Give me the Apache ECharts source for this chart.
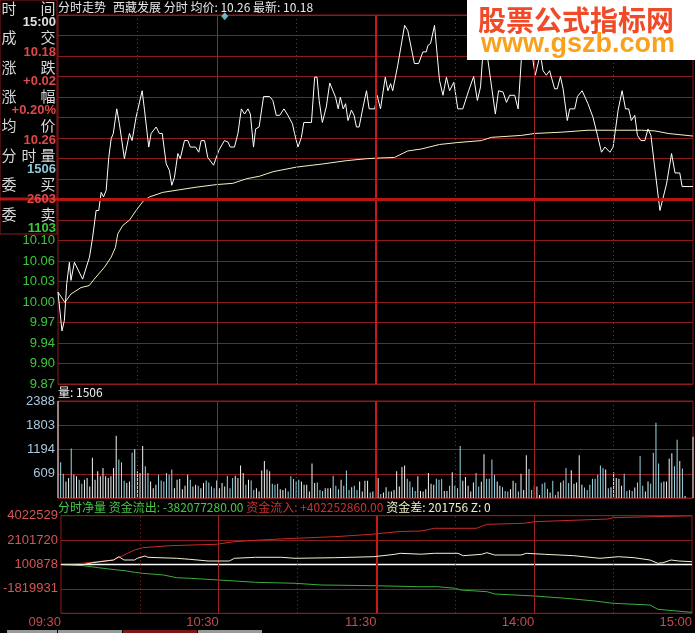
<!DOCTYPE html>
<html><head><meta charset="utf-8">
<script src="https://cdn.jsdelivr.net/npm/echarts@6/dist/echarts.min.js"></script>
<style>html,body{margin:0;padding:0;background:#000;}#c{width:695px;height:633px;}</style>
</head><body><div id="c"></div>
<script>
// ---------- data (minute index 0 = 09:30, 120 = 11:30/13:00, 240 = 15:00) ----------
const priceLine = [[0,10.017],[1.5,9.957],[2.4,9.973],[3.3,10.030],[4.3,10.063],[4.9,10.035],[6.2,10.063],[6.9,10.063],[9.3,10.037],[11.9,10.071],[13.1,10.102],[14.4,10.143],[15.4,10.143],[16.3,10.171],[17.2,10.164],[18.2,10.174],[19.2,10.225],[20.1,10.254],[20.9,10.262],[22.2,10.300],[23.2,10.277],[25.1,10.223],[27,10.262],[28,10.251],[29.5,10.287],[31.8,10.328],[32.7,10.298],[34.3,10.241],[35.2,10.262],[37.1,10.272],[38.3,10.262],[39.4,10.262],[40.9,10.215],[42.1,10.205],[43,10.182],[44,10.194],[45.3,10.231],[46.2,10.223],[47.8,10.251],[49.1,10.251],[50,10.241],[52,10.241],[53.2,10.233],[54.1,10.251],[55.4,10.251],[56.6,10.225],[58.8,10.213],[60.8,10.236],[62.9,10.251],[64.2,10.249],[65.1,10.241],[66.7,10.241],[68,10.262],[69.3,10.300],[70.5,10.292],[71.8,10.300],[72.7,10.292],[73.9,10.241],[74.7,10.269],[76,10.272],[77.7,10.319],[80,10.319],[81.2,10.313],[82.5,10.290],[83.8,10.290],[85.4,10.300],[86.9,10.290],[88.6,10.277],[89.4,10.262],[90.7,10.241],[92,10.256],[92.9,10.279],[95.8,10.279],[97,10.349],[97.9,10.349],[98.7,10.313],[99.9,10.279],[101.4,10.303],[102.7,10.340],[103.9,10.328],[104.9,10.318],[105.9,10.300],[106.7,10.318],[107.8,10.300],[108.7,10.308],[109.6,10.282],[110.9,10.298],[111.9,10.290],[112.8,10.272],[113.8,10.272],[115.3,10.303],[116.6,10.328],[117.6,10.300],[119.7,10.300],[120.6,10.321],[121.9,10.300],[123.7,10.349],[124.7,10.328],[125.7,10.339],[126.5,10.328],[128.4,10.367],[131,10.429],[132.2,10.421],[134.7,10.370],[136.3,10.370],[137.9,10.388],[139.2,10.388],[139.8,10.398],[140.8,10.401],[142.3,10.429],[144.2,10.344],[145.5,10.321],[146.8,10.349],[148,10.328],[149.6,10.341],[151.1,10.300],[153,10.300],[155.2,10.328],[157.1,10.350],[158.5,10.313],[159.7,10.334],[161,10.41],[162.5,10.375],[165.3,10.292],[166.5,10.328],[168.2,10.326],[169.5,10.310],[170.7,10.321],[172.6,10.321],[173.9,10.300],[175.1,10.375],[176.8,10.41],[179.5,10.375],[180.4,10.352],[181.7,10.375],[182.2,10.39],[182.7,10.375],[183.3,10.359],[184.6,10.352],[185.8,10.359],[187.7,10.331],[188.7,10.331],[189.9,10.350],[190.9,10.331],[192.5,10.282],[193.4,10.300],[195.3,10.300],[196.3,10.319],[198.1,10.328],[200.3,10.308],[202.2,10.287],[203.9,10.259],[205.4,10.233],[206.7,10.241],[208.6,10.233],[209.8,10.241],[211.7,10.298],[213.2,10.328],[214.5,10.300],[215.7,10.300],[216.7,10.282],[218,10.290],[219,10.259],[220.3,10.251],[221.8,10.251],[223,10.269],[224.1,10.259],[225.6,10.207],[227.5,10.143],[228.1,10.143],[230,10.184],[231.9,10.231],[233.2,10.201],[235,10.201],[235.9,10.18],[240,10.18]];
const avgLine = [[0,10.017],[2.6,10.001],[4.9,10.014],[8.7,10.024],[11.8,10.027],[13.7,10.037],[17.5,10.055],[20.1,10.071],[21.7,10.086],[22.6,10.107],[24.5,10.120],[27,10.128],[29.5,10.143],[32.3,10.158],[34.6,10.164],[39.6,10.171],[45.9,10.175],[52.2,10.179],[59.8,10.183],[66.1,10.185],[71.2,10.192],[76.2,10.196],[81.3,10.203],[90.1,10.210],[100.2,10.215],[109,10.220],[116.6,10.223],[121,10.224],[127.2,10.225],[132.2,10.235],[137.3,10.238],[144.2,10.245],[151.1,10.248],[160,10.251],[163.8,10.256],[175.1,10.259],[180.2,10.262],[190.3,10.264],[200.3,10.267],[207.9,10.267],[220.6,10.267],[225.6,10.266],[230.6,10.262],[240,10.258]];
const volume = [
2388,883,600,408,491,1216,575,533,450,350,
450,491,283,991,450,658,533,741,533,491,
533,741,1533,950,883,425,367,408,1116,1200,
658,616,1283,783,616,408,242,325,575,433,
408,616,575,700,242,450,466,217,300,575,
450,283,325,300,242,367,433,383,283,242,
433,242,367,283,550,242,491,550,491,800,
616,325,450,433,200,242,158,675,908,700,
658,350,325,350,217,200,242,158,533,466,
408,450,408,325,325,158,850,367,383,200,
175,242,242,242,550,300,217,450,300,675,
200,267,300,200,408,158,425,425,133,158,
250,491,100,133,267,158,158,200,658,283,
766,800,475,408,267,175,533,175,158,217,
616,350,325,475,450,466,175,175,300,633,
300,242,1283,425,516,300,158,383,616,283,
400,1075,475,475,950,575,408,300,267,175,
158,217,425,367,158,600,200,1050,716,200,
300,283,75,350,383,225,133,425,75,158,
383,433,741,367,683,350,383,1050,325,258,
200,325,475,475,575,800,741,700,242,267,
633,491,475,300,600,175,200,175,258,383,
1033,300,158,408,350,1116,1850,850,383,408,
408,975,1100,783,1433,908,725,50,0,0,
1506];
const inflow = [[0,100878],[8,196900],[20,461000],[28,1261300],[31,1445450],[41,1605500],[59,1717600],[66,1925650],[76,2061700],[89,2197800],[104,2325850],[118,2517900],[129,2742000],[137,2782000],[142,2998100],[158,2998100],[162,3318200],[176,3398250],[180,3526300],[208,3742400],[210,3846400],[230,3950000],[240,4000000]];
const outflow = [[0,100878],[8,20844],[16,-203250],[25,-419340],[28,-523390],[31,-603420],[39,-739480],[44,-955570],[49,-1003590],[60,-1139650],[74,-1323730],[89,-1403760],[99,-1539820],[119,-1595840],[136,-1675870],[143,-1675870],[150,-1803930],[152,-1940000],[162,-2076050],[165,-2260130],[180,-2420200],[192,-2604280],[203,-2820370],[210,-3004450],[224,-3140500],[227,-3484650],[234,-3620700],[240,-3724750]];
const netFlow = [[0,100878],[8,60860],[12,244940],[20,461030],[22,725140],[24,461030],[28,461030],[29,597100],[32,781170],[33,677130],[44,597100],[49,517060],[56,380990],[64,380990],[66,597100],[74,677130],[84,677130],[89,597100],[104,645110],[119,725140],[127,917220],[129,997260],[137,925250],[142,997260],[151,997260],[153,805180],[160,917220],[162,1045280],[165,861200],[175,861200],[177,997260],[184,917220],[195,805180],[205,597100],[212,725140],[218,645110],[224,461030],[227,196920],[229,244940],[232,461030],[235,380990],[240,324970]];
const markerPoint = [[63,10.443]];
const prevClose = 10.16;
const moneyBase = 100878;
const priceTickLabels = ['9.87','9.90','9.94','9.97','10.00','10.03','10.06','10.10'];
const volTickLabels = ['','609','1194','1803','2388'];
const moneyTickLabels = ['','-1819931','100878','2101720','4022529'];
const timeLabels = ['09:30','10:30','11:30','14:00','15:00'];
const gridMinutes = [30,60,90,120,150,180,210];
const gridKinds = ['dot','solid','dot','thick','dot','solid','dot'];
const infoLabels = [['时','间'],['成','交'],['涨','跌'],['涨','幅'],['均','价'],['分','时','量'],['委','买'],['委','卖']];
const infoValues = ['15:00','10.18','+0.02','+0.20%','10.26','1506','2603','1103'];

// ---------- styling ----------
const GRID = '#8a1c1c';
const RED = '#e04848', GREEN = '#3cc83c', CYAN = '#8ec8d8';
const infoColors = ['#e0e0e0',RED,RED,RED,RED,CYAN,RED,GREEN];
const NUMF = '"Liberation Sans", Arial, "Noto Sans CJK SC", sans-serif';
const CJKF = '"Noto Sans CJK SC", "Liberation Sans", sans-serif';

const PMIN = 9.875, PMAX = 10.445, PINT = (PMAX - PMIN) / 18;
const VMIN = 0, VINT = 597, VMAX = 2388;
const MINT = 1953330, MMIN = moneyBase - 2 * MINT, MMAX = moneyBase + 2 * MINT;

function lineStyleFor(k) {
  if (k === 'dot') return {color: '#9a2a2a', width: 1, type: [1, 3]};
  if (k === 'thick') return {color: '#c81818', width: 2, type: 'solid'};
  return {color: '#a02222', width: 1, type: 'solid'};
}
function vLines() { return gridMinutes.map((m, i) => ({xAxis: m, lineStyle: lineStyleFor(gridKinds[i])})); }
function holder(gi, extra) {
  return {type: 'line', xAxisIndex: gi, yAxisIndex: gi, data: [], z: 1, silent: true,
    markLine: {silent: true, symbol: ['none', 'none'], label: {show: false}, animation: false,
      data: vLines().concat(extra || [])}};
}
function priceAt(m) {
  for (let i = 1; i < priceLine.length; i++) {
    if (priceLine[i][0] >= m) {
      const a = priceLine[i - 1], b = priceLine[i];
      return a[1] + (b[1] - a[1]) * (m - a[0]) / (b[0] - a[0]);
    }
  }
  return priceLine[priceLine.length - 1][1];
}
const barColors = volume.map((v, i) => (i === 0 || priceAt(i) >= priceAt(i - 1)) ? '#f2f2f2' : '#9cd8e6');

const gridBase = {left: 58, right: 2, show: true, borderColor: GRID, borderWidth: 1, backgroundColor: 'transparent'};
const hiddenX = (gi) => ({type: 'value', gridIndex: gi, min: 0, max: 240, show: false});

const graphics = [];
// info panel
graphics.push({type: 'rect', z: 100, shape: {x: 0, y: 0, width: 57, height: 234}, style: {fill: '#000', stroke: GRID, lineWidth: 1}});
graphics.push({type: 'rect', z: 101, shape: {x: 0, y: 197.5, width: 58, height: 3}, style: {fill: '#b81414'}});
infoLabels.forEach((chars, i) => {
  const y = 8 + i * 29.4;
  const xs = chars.length === 3 ? [9, 29, 48] : [9, 48];
  chars.forEach((c, j) => graphics.push({type: 'text', z: 102, x: xs[j], y: y,
    style: {text: c, fill: '#d8d8d8', fontSize: 15, fontFamily: CJKF, align: 'center', verticalAlign: 'middle'}}));
  graphics.push({type: 'text', z: 102, x: 56, y: y + 14.6,
    style: {text: infoValues[i], fill: infoColors[i], fontSize: 13, fontWeight: 'bold', fontFamily: NUMF, align: 'right', verticalAlign: 'middle'}});
});
// header texts
graphics.push({type: 'text', z: 102, x: 58, y: 7, style: {text: '分时走势', fill: '#e8e8e8', fontSize: 12, fontFamily: CJKF, verticalAlign: 'middle'}});
graphics.push({type: 'text', z: 102, x: 113, y: 7, style: {text: '西藏发展 分时 均价: 10.26 最新: 10.18', fill: '#e8e8e8', fontSize: 12, fontFamily: CJKF, verticalAlign: 'middle'}});
graphics.push({type: 'text', z: 102, x: 58, y: 392, style: {text: '量: 1506', fill: '#f0f0f0', fontSize: 12, fontFamily: CJKF, verticalAlign: 'middle'}});
graphics.push({type: 'text', z: 102, x: 58, y: 507, style: {
  text: '{g|分时净量 资金流出: -382077280.00} {r|资金流入: +402252860.00} {w|资金差: 201756 Z: 0}',
  verticalAlign: 'middle', fontSize: 12, fontFamily: CJKF,
  rich: {g: {fill: '#46c846', fontSize: 12, fontFamily: CJKF}, r: {fill: '#d03030', fontSize: 12, fontFamily: CJKF}, w: {fill: '#f0f0c8', fontSize: 12, fontFamily: CJKF}}}});
// watermark
graphics.push({type: 'rect', z: 200, shape: {x: 467, y: 0, width: 228, height: 60}, style: {fill: '#ffffff'}});
graphics.push({type: 'text', z: 201, x: 576, y: 20, style: {text: '股票公式指标网', fill: '#f04a28', fontSize: 28, fontWeight: 'bold', fontFamily: CJKF, align: 'center', verticalAlign: 'middle'}});
graphics.push({type: 'text', z: 201, x: 578, y: 45, style: {text: 'www.gszb.com', fill: '#f8a21c', fontSize: 27, fontWeight: 'bold', fontFamily: NUMF, align: 'center', verticalAlign: 'middle'}});
// bottom tabs
[[7, 50, '#9a9a9a'], [58, 64, '#9a9a9a'], [123, 74, '#7a1818'], [198, 64, '#9a9a9a']].forEach(t =>
  graphics.push({type: 'rect', z: 50, shape: {x: t[0], y: 630, width: t[1], height: 3}, style: {fill: t[2]}}));

const option = {
  backgroundColor: '#000',
  animation: false,
  grid: [
    Object.assign({top: 15, height: 369}, gridBase),
    Object.assign({top: 401, height: 97}, gridBase),
    Object.assign({top: 515.7, height: 97.6}, gridBase)
  ],
  xAxis: [hiddenX(0), hiddenX(1), {
    type: 'value', gridIndex: 2, min: 0, max: 240, interval: 60,
    axisLine: {show: false}, axisTick: {show: false}, splitLine: {show: false},
    axisLabel: {formatter: (v, i) => timeLabels[i] || '', align: 'right', color: '#c44c4c', fontSize: 13, fontFamily: NUMF, margin: 3}
  }],
  yAxis: [
    {type: 'value', gridIndex: 0, min: PMIN, max: PMAX, interval: PINT,
      axisLine: {show: false}, axisTick: {show: false},
      splitLine: {lineStyle: {color: GRID, width: 1}},
      axisLabel: {formatter: (v, i) => priceTickLabels[i] || '', color: GREEN, fontSize: 13, fontFamily: NUMF, margin: 3}},
    {type: 'value', gridIndex: 1, min: VMIN, max: VMAX, interval: VINT,
      axisLine: {show: false}, axisTick: {show: false},
      splitLine: {lineStyle: {color: GRID, width: 1}},
      axisLabel: {formatter: (v, i) => volTickLabels[i] || '', color: '#a8c8e0', fontSize: 13, fontFamily: NUMF, margin: 3}},
    {type: 'value', gridIndex: 2, min: MMIN, max: MMAX, interval: MINT,
      axisLine: {show: false}, axisTick: {show: false},
      splitLine: {lineStyle: {color: GRID, width: 1}},
      axisLabel: {formatter: (v, i) => moneyTickLabels[i] || '', color: '#d45656', fontSize: 13, fontFamily: NUMF, margin: 3}}
  ],
  series: [
    holder(0, [{yAxis: prevClose, lineStyle: {color: '#b81414', width: 3, type: 'solid'}}]),
    holder(1),
    holder(2),
    {type: 'line', name: 'avg', xAxisIndex: 0, yAxisIndex: 0, data: avgLine, showSymbol: false, symbol: 'none',
      lineStyle: {color: '#f6f0c4', width: 1}, z: 3},
    {type: 'line', name: 'price', xAxisIndex: 0, yAxisIndex: 0, data: priceLine, showSymbol: false, symbol: 'none',
      lineStyle: {color: '#ffffff', width: 1}, z: 4},
    {type: 'scatter', xAxisIndex: 0, yAxisIndex: 0, data: markerPoint, symbol: 'diamond', symbolSize: [7, 8],
      itemStyle: {color: '#7fe0f0'}, z: 5},
    {type: 'bar', xAxisIndex: 1, yAxisIndex: 1, data: volume.map((v, i) => [i, v]), barWidth: 1,
      itemStyle: {color: (p) => barColors[p.dataIndex]}, z: 3},
    {type: 'line', xAxisIndex: 2, yAxisIndex: 2, data: [[0, moneyBase], [240, moneyBase]], symbol: 'none',
      lineStyle: {color: '#ffffff', width: 1.5}, z: 3},
    {type: 'line', name: 'in', xAxisIndex: 2, yAxisIndex: 2, data: inflow, symbol: 'none',
      lineStyle: {color: '#c82a2a', width: 1}, z: 4},
    {type: 'line', name: 'out', xAxisIndex: 2, yAxisIndex: 2, data: outflow, symbol: 'none',
      lineStyle: {color: '#3aae3a', width: 1}, z: 4},
    {type: 'line', name: 'net', xAxisIndex: 2, yAxisIndex: 2, data: netFlow, symbol: 'none',
      lineStyle: {color: '#f2f0d0', width: 1}, z: 5}
  ],
  graphic: graphics
};
const chart = echarts.init(document.getElementById('c'), null, {renderer: 'canvas', width: 695, height: 633});
chart.setOption(option);
</script>
</body></html>
